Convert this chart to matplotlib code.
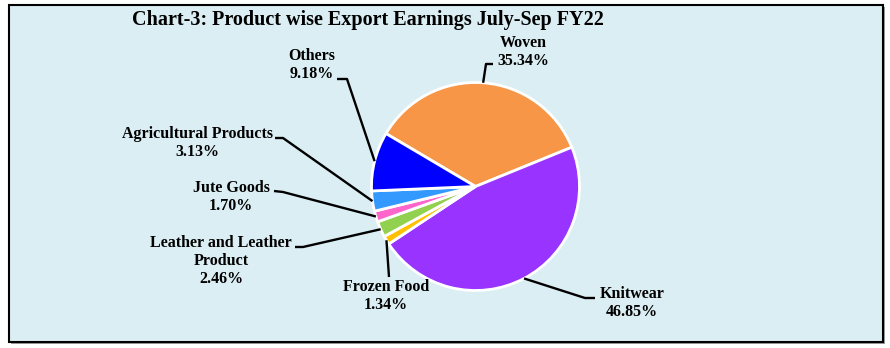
import numpy as np
import matplotlib
matplotlib.use("Agg")
import matplotlib.pyplot as plt
from matplotlib.patches import Rectangle

# data
products = ['Woven', 'Knitwear', 'Frozen Food', 'Leather and Leather\nProduct',
            'Jute Goods', 'Agricultural Products', 'Others']
shares = [35.34, 46.85, 1.34, 2.46, 1.70, 3.13, 9.18]
colors = ['#F79646', '#9933FF', '#FFC000', '#92D050', '#FF66CC', '#3399FF', '#0000FF']
title = 'Chart-3: Product wise Export Earnings July-Sep FY22'

# layout in pixels (top-left origin): text centre, then leader line start / elbow
text_pos = [(523, 52), (632, 303), (386, 296), (221, 261), (231, 197), (197, 143), (312, 65)]
leader = [[(493, 64), (486, 64)],
          [(595, 298), (585, 298)],
          [(389, 277)],
          [(295, 247), (303, 247)],
          [(274, 191), (283, 192)],
          [(275, 138), (283, 138)],
          [(337, 79), (347, 79)]]

W, H = 890, 348
fig = plt.figure(figsize=(W / 100, H / 100), dpi=100)
fig.patch.set_facecolor('white')
ax = fig.add_axes([0, 0, 1, 1])

def fy(y):
    return H - y

# background frame with shadow
ax.add_patch(Rectangle((11, fy(344)), 874, 337, facecolor='#9a9a9a', edgecolor='none', zorder=0))
ax.add_patch(Rectangle((9, fy(342)), 874, 337, facecolor='#DBEEF4', edgecolor='black', lw=1.5, zorder=1))

cx, cy, r = 475.5, fy(186.5), 104
start = 149.4
wedges, _ = ax.pie(shares, colors=colors, startangle=start, counterclock=False,
                   center=(cx, cy), radius=r, frame=True,
                   wedgeprops=dict(edgecolor='white', linewidth=2, zorder=3))
for w in wedges:
    w.set_zorder(3)

font = dict(family=['Liberation Serif', 'DejaVu Serif'], fontweight='bold')

total = sum(shares)
ang = start
for i, (name, val) in enumerate(zip(products, shares)):
    sweep = val / total * 360
    mid = np.deg2rad(ang - sweep / 2)
    ang -= sweep
    ax_pt = (cx + r * np.cos(mid), cy + r * np.sin(mid))
    pts = [(x, fy(y)) for x, y in leader[i]] + [ax_pt]
    xs, ys = zip(*pts)
    ax.plot(xs, ys, color='black', lw=1.7, zorder=4, solid_capstyle='butt')
    tx, ty = text_pos[i]
    ax.text(tx, fy(ty), f'{name}\n{val:.2f}%', ha='center', va='center',
            multialignment='center', fontsize=11.5, linespacing=1.2, zorder=5, **font)

ax.text(368, fy(20), title, ha='center', va='center', fontsize=14.5, zorder=5, **font)

ax.set_xlim(0, W)
ax.set_ylim(0, H)
ax.set_aspect('auto')
ax.axis('off')

fig.savefig('out.png', dpi=100, facecolor='white')
